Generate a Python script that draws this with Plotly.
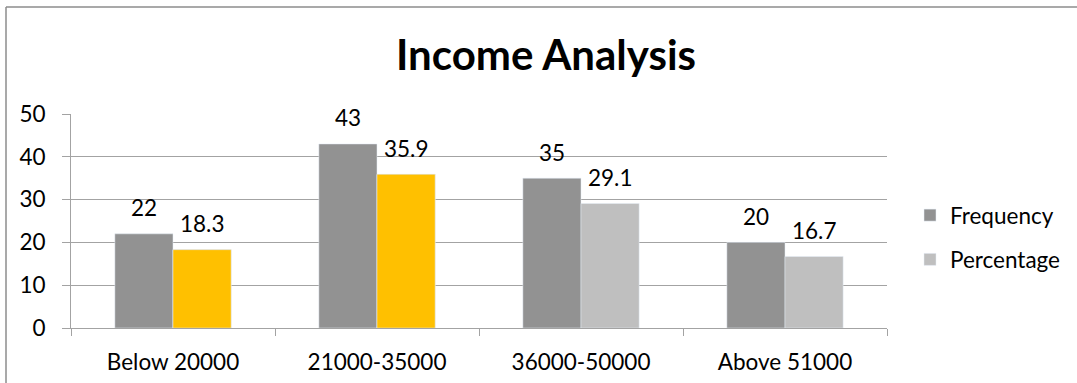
import plotly.graph_objects as go

categories = ["Below 20000", "21000-35000", "36000-50000", "Above 51000"]
frequency = [22, 43, 35, 20]
percentage = [18.3, 35.9, 29.1, 16.7]
highlight_count = 2  # first two percentage bars are highlighted in gold

FONT = "Lato"
FS = 22.5
C_FREQ = "#929292"
C_PCT = "#BFBFBF"
C_HI = "#FFC000"
GRID = "#A3A3A3"

L, R, T, B = 71, 190, 114, 55
W, H = 1077, 383
pw, ph = W - L - R, H - T - B

fig = go.Figure()
fig.add_bar(x=categories, y=frequency, name="Frequency", marker_color=C_FREQ,
            offsetgroup="f", legendgroup="f")
fig.add_bar(x=categories, y=percentage, name="Percentage", marker_color=C_PCT,
            offsetgroup="p", legendgroup="p")
fig.add_bar(x=categories[:highlight_count], y=percentage[:highlight_count], name="Percentage",
            marker_color=C_HI, offsetgroup="p", legendgroup="p", showlegend=False)

bar_px = pw / len(categories) * 0.57 / 2
for c, v in zip(categories, frequency):
    fig.add_annotation(x=c, y=v, xref="x", yref="y", text=str(v), showarrow=False,
                       xshift=-bar_px / 2, yshift=26, yanchor="middle",
                       font=dict(family=FONT, size=FS, color="black"))
for c, v in zip(categories, percentage):
    fig.add_annotation(x=c, y=v, xref="x", yref="y", text=f"{v}", showarrow=False,
                       xshift=bar_px / 2, yshift=26, yanchor="middle",
                       font=dict(family=FONT, size=FS, color="black"))

# chart border (partly cropped at right/bottom)
bx = (6 - L) / pw
by = (H - B - 7) / ph
fig.add_shape(type="line", xref="paper", yref="paper", x0=bx, x1=bx, y0=by, y1=-1,
              line=dict(color="#8C8C8C", width=1.5))
fig.add_shape(type="line", xref="paper", yref="paper", x0=bx, x1=2, y0=by, y1=by,
              line=dict(color="#8C8C8C", width=1.5))

fig.update_layout(
    width=W, height=H,
    margin=dict(l=L, r=R, t=T, b=B, autoexpand=False),
    paper_bgcolor="white", plot_bgcolor="white",
    barmode="group", bargap=0.43, bargroupgap=0,
    font=dict(family=FONT, size=FS, color="black"),
    title=dict(text="<b>Income Analysis</b>", x=546 / W, xanchor="center",
               y=1 - 55 / H, yanchor="middle", xref="container", yref="container",
               font=dict(family=FONT, size=42, color="black")),
    showlegend=True,
    legend=dict(x=(910 - L) / pw, xanchor="left", y=(H - B - 194) / ph, yanchor="top",
                font=dict(family=FONT, size=FS), tracegroupgap=12,
                itemwidth=30, bgcolor="rgba(0,0,0,0)"),
)
fig.update_yaxes(range=[0, 50], dtick=10, showgrid=True, gridcolor=GRID, gridwidth=1,
                 showline=True, linecolor=GRID, linewidth=1, ticks="outside", ticklen=8,
                 tickcolor=GRID, ticklabelstandoff=12, zeroline=False, fixedrange=True,
                 automargin=False)
fig.update_xaxes(showline=True, linecolor=GRID, linewidth=1, ticks="outside", ticklen=7,
                 tickcolor=GRID, tickson="boundaries", ticklabelstandoff=14, fixedrange=True,
                 automargin=False)

fig.write_html("out.html")
